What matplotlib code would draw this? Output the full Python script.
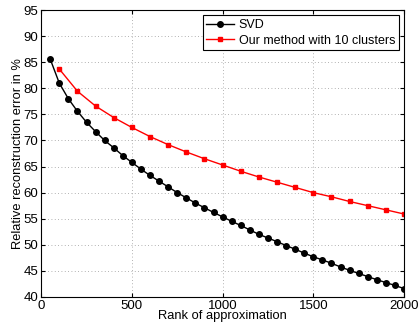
import numpy as np
import matplotlib
matplotlib.use("Agg")
import matplotlib.pyplot as plt

plt.rcParams['font.family'] = ['Liberation Sans', 'DejaVu Sans']

svd_rank = list(range(50, 2001, 50))
svd_err = [85.6, 81.0, 78.0, 75.6, 73.5, 71.7, 70.0, 68.6, 67.1, 65.8,
           64.5, 63.3, 62.2, 61.1, 60.0, 59.0, 58.0, 57.1, 56.2, 55.35,
           54.5, 53.7, 52.85, 52.0, 51.3, 50.6, 49.85, 49.15, 48.4, 47.7,
           47.1, 46.45, 45.75, 45.1, 44.5, 43.9, 43.3, 42.75, 42.2, 41.6]

our_rank = list(range(100, 2001, 100))
our_err = [83.7, 79.45, 76.6, 74.4, 72.5, 70.75, 69.2, 67.8, 66.5, 65.3,
           64.1, 63.0, 62.0, 61.0, 60.0, 59.2, 58.3, 57.5, 56.7, 55.9]

fig = plt.figure(figsize=(4.2, 3.27), dpi=100)
ax = fig.add_axes([0.098, 0.092, 0.864, 0.877])

ax.plot(svd_rank, svd_err, '-o', color='black', lw=1, ms=4, label='SVD')
ax.plot(our_rank, our_err, '-s', color='red', lw=1, ms=3.5,
        label='Our method with 10 clusters')

ax.set_xlim(0, 2000)
ax.set_ylim(40, 95)
ax.set_xticks([0, 500, 1000, 1500, 2000])
ax.set_yticks(np.arange(40, 96, 5))
ax.grid(True, linestyle=(0, (1, 3)), color='#999999', lw=0.6)
ax.tick_params(direction='in', top=True, right=True, labelsize=9.5, length=3, pad=2)
for s in ax.spines.values():
    s.set_linewidth(0.8)

ax.set_xlabel('Rank of approximation', fontsize=9.3, labelpad=-1)
ax.set_ylabel('Relative reconstruction error in %', fontsize=9.3, labelpad=0)

leg = ax.legend(loc='upper right', fontsize=9, fancybox=False, framealpha=1,
                edgecolor='black', borderaxespad=0.4, handlelength=2.2,
                labelspacing=0.3, borderpad=0.3, handletextpad=0.4)
leg.get_frame().set_linewidth(0.8)

fig.savefig('out.png', dpi=100)
